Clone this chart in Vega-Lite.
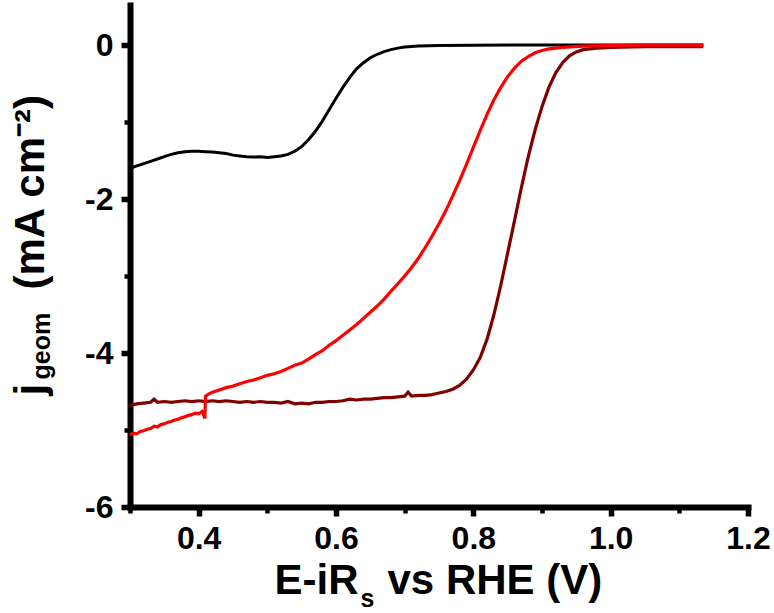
{
  "$schema": "https://vega.github.io/schema/vega-lite/v6.json",
  "width": 618,
  "height": 502,
  "autosize": {"type": "none"},
  "padding": {"left": 130, "top": 5, "right": 26, "bottom": 106},
  "background": "white",
  "config": {
    "view": {"stroke": null},
    "font": "Liberation Sans",
    "axis": {
      "grid": false,
      "labelColor": "black",
      "titleColor": "black",
      "tickColor": "black",
      "domainColor": "black",
      "titleFontWeight": "bold",
      "labelFontWeight": "bold",
      "titleAlign": "left",
      "titleBaseline": "alphabetic"
    }
  },
  "datasets": {
    "curveBlack": [
      {"E": 0.300, "j": -1.60}, {"E": 0.310, "j": -1.57}, {"E": 0.320, "j": -1.54}, {"E": 0.330, "j": -1.51},
      {"E": 0.340, "j": -1.48}, {"E": 0.350, "j": -1.45}, {"E": 0.360, "j": -1.42}, {"E": 0.370, "j": -1.40},
      {"E": 0.380, "j": -1.385}, {"E": 0.390, "j": -1.38}, {"E": 0.400, "j": -1.38}, {"E": 0.410, "j": -1.385},
      {"E": 0.420, "j": -1.39}, {"E": 0.430, "j": -1.40}, {"E": 0.440, "j": -1.41}, {"E": 0.450, "j": -1.43},
      {"E": 0.460, "j": -1.44}, {"E": 0.470, "j": -1.45}, {"E": 0.480, "j": -1.455}, {"E": 0.490, "j": -1.45},
      {"E": 0.500, "j": -1.46}, {"E": 0.510, "j": -1.45}, {"E": 0.520, "j": -1.44}, {"E": 0.530, "j": -1.42},
      {"E": 0.540, "j": -1.38}, {"E": 0.550, "j": -1.32}, {"E": 0.560, "j": -1.23}, {"E": 0.570, "j": -1.12},
      {"E": 0.580, "j": -0.99}, {"E": 0.590, "j": -0.84}, {"E": 0.600, "j": -0.69}, {"E": 0.610, "j": -0.55},
      {"E": 0.620, "j": -0.42}, {"E": 0.630, "j": -0.31}, {"E": 0.640, "j": -0.23}, {"E": 0.650, "j": -0.165},
      {"E": 0.660, "j": -0.12}, {"E": 0.670, "j": -0.085}, {"E": 0.680, "j": -0.06}, {"E": 0.690, "j": -0.04},
      {"E": 0.700, "j": -0.025}, {"E": 0.720, "j": -0.012}, {"E": 0.750, "j": -0.005}, {"E": 0.800, "j": -0.002},
      {"E": 0.900, "j": 0.0}, {"E": 1.000, "j": 0.0}, {"E": 1.135, "j": 0.0}
    ],
    "curveDark": [
      {"E": 0.300, "j": -4.68}, {"E": 0.310, "j": -4.66}, {"E": 0.320, "j": -4.65}, {"E": 0.330, "j": -4.64},
      {"E": 0.335, "j": -4.60}, {"E": 0.340, "j": -4.64}, {"E": 0.350, "j": -4.63}, {"E": 0.360, "j": -4.64},
      {"E": 0.370, "j": -4.63}, {"E": 0.380, "j": -4.62}, {"E": 0.390, "j": -4.63}, {"E": 0.400, "j": -4.62},
      {"E": 0.410, "j": -4.63}, {"E": 0.420, "j": -4.62}, {"E": 0.430, "j": -4.63}, {"E": 0.440, "j": -4.62},
      {"E": 0.450, "j": -4.63}, {"E": 0.460, "j": -4.64}, {"E": 0.470, "j": -4.63}, {"E": 0.480, "j": -4.64},
      {"E": 0.490, "j": -4.63}, {"E": 0.500, "j": -4.64}, {"E": 0.510, "j": -4.64}, {"E": 0.520, "j": -4.65},
      {"E": 0.530, "j": -4.63}, {"E": 0.540, "j": -4.66}, {"E": 0.550, "j": -4.65}, {"E": 0.560, "j": -4.66},
      {"E": 0.570, "j": -4.64}, {"E": 0.580, "j": -4.64}, {"E": 0.590, "j": -4.63}, {"E": 0.600, "j": -4.63},
      {"E": 0.610, "j": -4.62}, {"E": 0.620, "j": -4.60}, {"E": 0.630, "j": -4.61}, {"E": 0.640, "j": -4.60},
      {"E": 0.650, "j": -4.60}, {"E": 0.660, "j": -4.59}, {"E": 0.670, "j": -4.58}, {"E": 0.680, "j": -4.58},
      {"E": 0.690, "j": -4.57}, {"E": 0.700, "j": -4.56}, {"E": 0.705, "j": -4.51}, {"E": 0.710, "j": -4.56},
      {"E": 0.720, "j": -4.55}, {"E": 0.730, "j": -4.55}, {"E": 0.740, "j": -4.54}, {"E": 0.750, "j": -4.52},
      {"E": 0.760, "j": -4.50}, {"E": 0.770, "j": -4.47}, {"E": 0.780, "j": -4.42}, {"E": 0.790, "j": -4.34},
      {"E": 0.800, "j": -4.22}, {"E": 0.810, "j": -4.06}, {"E": 0.820, "j": -3.82}, {"E": 0.830, "j": -3.50},
      {"E": 0.840, "j": -3.12}, {"E": 0.850, "j": -2.70}, {"E": 0.860, "j": -2.28}, {"E": 0.870, "j": -1.85},
      {"E": 0.880, "j": -1.45}, {"E": 0.890, "j": -1.10}, {"E": 0.900, "j": -0.80}, {"E": 0.910, "j": -0.55},
      {"E": 0.920, "j": -0.36}, {"E": 0.930, "j": -0.23}, {"E": 0.940, "j": -0.14}, {"E": 0.950, "j": -0.09},
      {"E": 0.960, "j": -0.06}, {"E": 0.980, "j": -0.04}, {"E": 1.000, "j": -0.03}, {"E": 1.050, "j": -0.02},
      {"E": 1.135, "j": -0.02}
    ],
    "curveRed": [
      {"E": 0.300, "j": -5.06}, {"E": 0.305, "j": -5.04}, {"E": 0.310, "j": -5.05}, {"E": 0.315, "j": -5.02},
      {"E": 0.320, "j": -5.01}, {"E": 0.325, "j": -4.99}, {"E": 0.330, "j": -4.98}, {"E": 0.335, "j": -4.95},
      {"E": 0.340, "j": -4.96}, {"E": 0.345, "j": -4.93}, {"E": 0.350, "j": -4.92}, {"E": 0.355, "j": -4.90},
      {"E": 0.360, "j": -4.89}, {"E": 0.365, "j": -4.87}, {"E": 0.370, "j": -4.86}, {"E": 0.375, "j": -4.84},
      {"E": 0.380, "j": -4.83}, {"E": 0.385, "j": -4.81}, {"E": 0.390, "j": -4.80}, {"E": 0.395, "j": -4.78},
      {"E": 0.400, "j": -4.79}, {"E": 0.405, "j": -4.76}, {"E": 0.407, "j": -4.80}, {"E": 0.409, "j": -4.85},
      {"E": 0.410, "j": -4.56}, {"E": 0.415, "j": -4.53}, {"E": 0.420, "j": -4.51}, {"E": 0.430, "j": -4.48},
      {"E": 0.440, "j": -4.45}, {"E": 0.450, "j": -4.43}, {"E": 0.460, "j": -4.40}, {"E": 0.470, "j": -4.37},
      {"E": 0.480, "j": -4.35}, {"E": 0.490, "j": -4.32}, {"E": 0.500, "j": -4.29}, {"E": 0.510, "j": -4.27},
      {"E": 0.520, "j": -4.24}, {"E": 0.530, "j": -4.20}, {"E": 0.540, "j": -4.16}, {"E": 0.550, "j": -4.13},
      {"E": 0.560, "j": -4.08}, {"E": 0.570, "j": -4.02}, {"E": 0.580, "j": -3.97}, {"E": 0.590, "j": -3.90},
      {"E": 0.600, "j": -3.84}, {"E": 0.610, "j": -3.77}, {"E": 0.620, "j": -3.70}, {"E": 0.630, "j": -3.63},
      {"E": 0.640, "j": -3.55}, {"E": 0.650, "j": -3.47}, {"E": 0.660, "j": -3.39}, {"E": 0.670, "j": -3.30},
      {"E": 0.680, "j": -3.20}, {"E": 0.690, "j": -3.10}, {"E": 0.700, "j": -3.00}, {"E": 0.710, "j": -2.89},
      {"E": 0.720, "j": -2.77}, {"E": 0.730, "j": -2.63}, {"E": 0.740, "j": -2.48}, {"E": 0.750, "j": -2.32},
      {"E": 0.760, "j": -2.15}, {"E": 0.770, "j": -1.96}, {"E": 0.780, "j": -1.76}, {"E": 0.790, "j": -1.55},
      {"E": 0.800, "j": -1.33}, {"E": 0.810, "j": -1.11}, {"E": 0.820, "j": -0.90}, {"E": 0.830, "j": -0.71},
      {"E": 0.840, "j": -0.55}, {"E": 0.850, "j": -0.41}, {"E": 0.860, "j": -0.30}, {"E": 0.870, "j": -0.21},
      {"E": 0.880, "j": -0.15}, {"E": 0.890, "j": -0.10}, {"E": 0.900, "j": -0.07}, {"E": 0.910, "j": -0.05},
      {"E": 0.930, "j": -0.03}, {"E": 0.960, "j": -0.015}, {"E": 1.000, "j": -0.006}, {"E": 1.050, "j": -0.002},
      {"E": 1.135, "j": 0.0}
    ]
  },
  "layer": [
    {
      "data": {"name": "curveBlack"},
      "mark": {"type": "line", "color": "black", "strokeWidth": 3},
      "encoding": {
        "x": {
          "field": "E", "type": "quantitative",
          "scale": {"domain": [0.3, 1.2], "nice": false, "zero": false},
          "axis": {
            "orient": "bottom",
            "values": [0.4, 0.6, 0.8, 1.0, 1.2],
            "labelExpr": "format(datum.value, '.1f')",
            "labelFontSize": 32, "labelPadding": 7,
            "labelFlush": false, "labelOverlap": false, "labelBound": false,
            "tickSize": 9, "tickWidth": 5.5,
            "domainWidth": 6, "domainCap": "square",
            "title": "E-iR", "titleFontSize": 42,
            "titleX": 144, "titleY": 86, "titleAngle": 0
          }
        },
        "y": {
          "field": "j", "type": "quantitative",
          "scale": {"domain": [-6, 0.52], "nice": false, "zero": false},
          "axis": {
            "orient": "left",
            "values": [-6, -4, -2, 0],
            "labelExpr": "'' + datum.value",
            "labelFontSize": 32, "labelPadding": 8,
            "labelOverlap": false, "labelBound": false, "labelFlush": false,
            "tickSize": 9, "tickWidth": 5.5,
            "domainWidth": 6, "domainCap": "square",
            "title": "j", "titleFontSize": 42,
            "titleX": -87, "titleY": 390, "titleAngle": -90
          }
        }
      }
    },
    {
      "data": {"name": "curveDark"},
      "mark": {"type": "line", "color": "#800000", "strokeWidth": 3.2},
      "encoding": {
        "x": {
          "field": "E", "type": "quantitative",
          "scale": {"domain": [0.3, 1.2], "nice": false, "zero": false},
          "axis": {
            "orient": "bottom",
            "values": [0.3, 0.5, 0.7, 0.9, 1.1],
            "labels": false, "domain": false,
            "tickSize": 6, "tickWidth": 4.5,
            "title": "s", "titleFontSize": 25,
            "titleX": 230, "titleY": 99, "titleAngle": 0
          }
        },
        "y": {
          "field": "j", "type": "quantitative",
          "scale": {"domain": [-6, 0.52], "nice": false, "zero": false},
          "axis": {
            "orient": "left",
            "values": [-5, -3, -1],
            "labels": false, "domain": false,
            "tickSize": 6, "tickWidth": 4.5,
            "title": "geom", "titleFontSize": 25,
            "titleX": -81, "titleY": 374, "titleAngle": -90
          }
        }
      }
    },
    {
      "data": {"name": "curveRed"},
      "mark": {"type": "line", "color": "#ff0000", "strokeWidth": 3.2},
      "encoding": {
        "x": {
          "field": "E", "type": "quantitative",
          "scale": {"domain": [0.3, 1.2], "nice": false, "zero": false},
          "axis": {
            "orient": "bottom",
            "labels": false, "domain": false, "ticks": false,
            "title": "vs RHE (V)", "titleFontSize": 42,
            "titleX": 257, "titleY": 86, "titleAngle": 0
          }
        },
        "y": {
          "field": "j", "type": "quantitative",
          "scale": {"domain": [-6, 0.52], "nice": false, "zero": false},
          "axis": {
            "orient": "left",
            "labels": false, "domain": false, "ticks": false,
            "title": "(mA cm⁻²)", "titleFontSize": 42,
            "titleX": -87, "titleY": 284, "titleAngle": -90
          }
        }
      }
    }
  ],
  "resolve": {"axis": {"x": "independent", "y": "independent"}}
}
